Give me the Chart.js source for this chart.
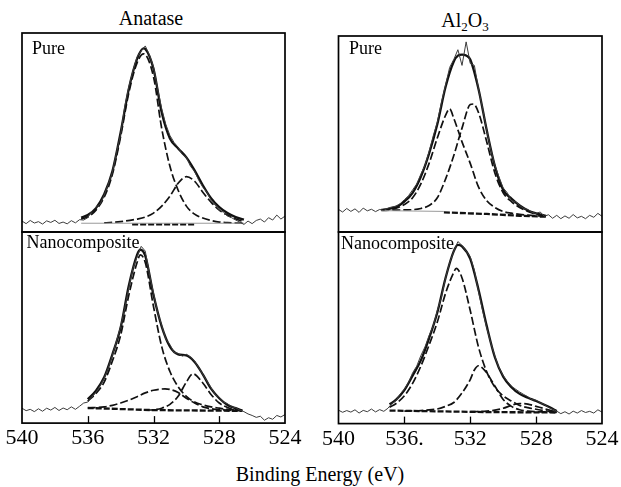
<!DOCTYPE html>
<html>
<head>
<meta charset="utf-8">
<script src="https://cdn.jsdelivr.net/npm/chart.js@4.4.0/dist/chart.umd.min.js"></script>
<style>
  body { margin: 0; background: #fff; width: 621px; height: 487px; position: relative; overflow: hidden; }
  canvas { position: absolute; }
  .txt { position: absolute; font-family: 'Liberation Serif', 'Times New Roman', serif; color: #000; text-align: center; line-height: 20px; white-space: nowrap; }
  sub { font-size: 13px; vertical-align: -4px; line-height: 0; }
</style>
</head>
<body>
<div class="txt" style="left:0;top:8px;width:302px;font-size:20px;">Anatase</div>
<div class="txt" style="left:365px;top:10px;width:200px;font-size:20px;">Al<sub>2</sub>O<sub>3</sub></div>
<div class="txt" style="left:170px;top:464px;width:300px;font-size:20px;">Binding Energy (eV)</div>
<canvas id="lt" width="310" height="210" style="left:0;top:28px"></canvas>
<canvas id="rt" width="305" height="210" style="left:316px;top:28px"></canvas>
<canvas id="lb" width="310" height="235" style="left:0;top:226px"></canvas>
<canvas id="rb" width="305" height="235" style="left:316px;top:226px"></canvas>
<script>
// binding energy grid of the measured spectra (eV)
const rawEnergy = [
  540, 539.75, 539.5, 539.25, 539, 538.75, 538.5, 538.25, 538, 537.75, 537.5, 537.25, 537,
  536.75, 536.5, 536.25, 536, 535.75, 535.5, 535.25, 535, 534.75, 534.5, 534.25, 534, 533.75,
  533.5, 533.25, 533, 532.75, 532.5, 532.25, 532, 531.75, 531.5, 531.25, 531, 530.75, 530.5,
  530.25, 530, 529.75, 529.5, 529.25, 529, 528.75, 528.5, 528.25, 528, 527.75, 527.5, 527.25,
  527, 526.75, 526.5, 526.25, 526, 525.75, 525.5, 525.25, 525, 524.75, 524.5, 524.25, 524
];
const tickValues = [540, 536, 532, 528, 524];
const leftTickLabels = ['540', '536', '532', '528', '524'];
const rightTickLabels = ['540', '536.', '532', '528', '524'];
const innerTicks = [536, 532, 528];

// ---- Anatase, pure ----
const anPureRaw = [
  5.5, 4.2, 5.8, 4.5, 5.2, 4.0, 5.6, 4.8, 5.9, 4.3, 5.0, 4.1, 5.7,
  4.6, 6.2, 6.0, 7.2, 10.5, 12.5, 14.0, 18.5, 24, 30, 40, 49, 63,
  73, 81, 88, 91, 93.5, 89, 83, 72, 62, 54, 48.5, 45, 42.5,
  39, 37.5, 33, 30.5, 26, 22.5, 20, 16, 13.5, 11, 10, 8, 7.2,
  6, 5, 3.8, 5.5, 4.2, 5.8, 6.5, 5.0, 7.2, 6.0, 8.5, 6.5, 8.0
];
const anPureFit = [[536.4,7.2],[536,8.5],[535.5,12],[535,19],[534.5,30.5],[534,50],[533.5,72],[533,87],[532.6,92.3],[532.5,92],[532,82],[531.5,60],[531,47],[530.5,42],[530,37.5],[529.5,31],[529,23.5],[528.5,17],[528,12.5],[527.5,9.5],[527,7.5],[526.5,6.2]];
const anPureMain = [[536.4,6.5],[536,7.5],[535.5,11],[535,17.5],[534.5,29],[534,48],[533.5,70],[533,85],[532.6,89.5],[532,78],[531.5,52],[531,33],[530.5,21],[530,13],[529.5,9],[529,7],[528.5,5.8],[528,5],[527.5,4.7],[527,4.5],[526.5,4.4]];
const anPureLow = [[535,4.6],[534,5.2],[533,6.5],[532.5,7.5],[532,9.5],[531.5,13],[531,18],[530.5,24.5],[530,27.8],[529.5,25.5],[529,20],[528.5,15],[528,11],[527.5,8.5],[527,6.5],[526.5,5.2]];
const anPureBase = [[536.4,4.4],[526.5,4.4]];
const anPureBg = [[533.3,3.8],[529.5,3.8]];

// ---- Al2O3, pure ----
const alPureRaw = [
  11.5, 10.2, 12.0, 10.5, 11.8, 10.0, 12.2, 10.8, 11.6, 10.4, 11.5, 11.0, 12.2,
  12.8, 13.2, 14.5, 16.5, 18.5, 21.5, 24.5, 29.5, 34, 41, 49, 56, 66,
  75, 84, 88, 93, 85, 97, 86, 85, 73, 63, 52, 42, 34,
  28, 22.5, 20, 16, 15.5, 13.5, 12.0, 11.5, 10.0, 9.5, 10.2, 8.0, 8.8,
  7.0, 8.5, 6.8, 8.2, 7.0, 8.9, 7.2, 8.0, 6.8, 8.5, 7.5, 9.5, 8.0
];
const alPureFit = [[537.4,11.3],[537,11.7],[536.5,12.8],[536,15.5],[535.5,20],[535,28.2],[534.5,40],[534,55],[533.5,74],[533,87],[532.75,90],[532.5,90.5],[532.25,90],[532,88],[531.5,73],[531,52],[530.5,33.5],[530,21.5],[529.5,17],[529,13.5],[528.5,11],[528,9.5],[527.4,8.2]];
const alPureHigh = [[537.4,11.2],[537,11.5],[536.5,12.2],[536,14],[535.5,17.5],[535,24.5],[534.5,35],[534,48],[533.5,59.5],[533.25,62.8],[533,58],[532.5,46],[532,35],[531.5,23],[531,16],[530.5,12.5],[530,10.5],[529.5,9.6],[529,9],[528.5,8.6],[528,8.3],[527.4,8]];
const alPureLow = [[537.4,11],[536.5,11.2],[535.5,11.4],[535,12],[534.5,13.5],[534,17.5],[533.5,27],[533,39],[532.5,53],[532,65],[531.8,65.3],[531.5,61],[531,46],[530.5,30],[530,20],[529.5,15.5],[529,12.5],[528.5,10.5],[528,9.2],[527.4,8.2]];
const alPureBase = [[537.4,10.9],[533.6,10.5]];
const alPureBg = [[533.6,10.0],[531,9.2],[529,8.3],[527.4,7.8]];

// ---- Anatase, nanocomposite ----
const anNanoRaw = [
  7.8, 6.5, 7.2, 6.0, 7.5, 6.2, 7.8, 6.8, 8.2, 6.6, 7.9, 7.0, 8.5,
  7.2, 8.8, 10.5, 11.0, 13.5, 16.0, 19.5, 23.5, 29, 35.5, 43, 50.5, 60,
  71, 81, 87, 92.5, 90, 78, 68, 58, 51, 44, 41, 37, 36.5,
  35, 36, 34.5, 32.5, 29, 25.5, 22, 18.5, 15, 13.5, 11, 10.2, 8.5,
  8.0, 6.8, 6.0, 4.8, 4.0, 3.0, 3.6, 1.5, 2.8, 2.0, 4.0, 3.2, 4.5
];
const anNanoFit = [[536,12.5],[535.5,17],[535,24],[534.5,36],[534,50],[533.5,72],[533,88],[532.8,90.7],[532.5,87.5],[532,67],[531.5,50.5],[531,40],[530.5,36],[530,35.4],[529.5,32],[529,25.5],[528.5,18],[528,13],[527.5,9.5],[527,7.8],[526.6,6.5]];
const anNanoMain = [[536,11.5],[535.5,15.5],[535,21.5],[534.5,32.5],[534,46],[533.5,67],[533,84],[532.8,88],[532.5,84],[532,61],[531.5,40],[531,27],[530.5,19],[530,14],[529.5,11],[529,9.5],[528.5,8.5],[528,7.8],[527.5,7.2],[527,6.8],[526.6,6.5]];
const anNanoMid = [[536,7.9],[535,8.5],[534.5,9.3],[534,10.5],[533.5,12],[533,13.8],[532.5,15.8],[532,17.2],[531.3,17.9],[531,17.6],[530.5,16],[530,13],[529.5,10.5],[529,8.5],[528.5,7.5],[528,7],[527,6.6],[526.6,6.4]];
const anNanoLow = [[532.5,6.8],[532,7],[531.5,7.8],[531,9.8],[530.5,14],[530,21.5],[529.6,25.8],[529,21],[528.5,15],[528,10.5],[527.5,8.2],[527,7],[526.6,6.5]];
const anNanoBg = [[536,7.9],[532,6.8],[526.6,6.4]];

// ---- Al2O3, nanocomposite ----
const alNanoRaw = [
  7.0, 5.9, 6.8, 6.0, 7.2, 5.5, 6.9, 6.2, 7.6, 6.1, 7.3, 6.4, 8.0,
  10.5, 12.0, 15.5, 18.0, 21.5, 26.5, 30, 35.5, 40, 46, 51, 59, 66,
  76, 84, 90, 95, 93, 90, 87, 80, 69, 59, 50, 42, 35,
  29, 25, 22, 19.5, 18, 16.5, 15.2, 14, 12.5, 12.2, 10.8, 10, 8.5,
  7.5, 6.5, 5.2, 6.2, 5.0, 6.5, 5.5, 6.8, 5.8, 6.4, 5.5, 7.2, 6.0
];
const alNanoFit = [[536.9,10],[536.5,12.5],[536,17.5],[535.5,25],[535,33],[534.5,44.5],[534,58],[533.5,76],[533,90],[532.75,93.3],[532.5,92.5],[532,86],[531.5,70],[531,51],[530.5,34.5],[530,24.5],[529.5,19],[529,15.5],[528.5,13.5],[528,11.8],[527.5,9.8],[527,7.8],[526.75,6.5]];
const alNanoMain = [[536.9,8.5],[536.5,10.5],[536,14.5],[535.5,21],[535,30],[534.5,41],[534,53],[533.5,68],[533,79],[532.85,81],[532.5,76],[532,59],[531.5,40],[531,27],[530.5,19],[530,14.5],[529.5,11.8],[529,9.5],[528.5,8.3],[528,7.5],[527.5,6.8],[527,6.3],[526.75,6]];
const alNanoMid = [[536,6.5],[535,6.8],[534.5,7.2],[534,7.6],[533.5,9],[533,11],[532.5,16],[532,23],[531.75,28],[531.5,30.2],[531.25,29],[531,26.5],[530.5,19.5],[530,12.6],[529.5,9],[529,7.2],[528.5,6.5],[528,6.2],[527,6],[526.75,5.9]];
const alNanoLow = [[532,6.2],[531,6.5],[530.5,7],[530,8],[529.5,9.5],[529,10.5],[528.5,10.2],[528,9],[527.5,7.8],[527,6.6],[526.75,6]];
const alNanoBg = [[536.9,6.8],[531,6],[526.75,5.8]];

const serif = "'Liberation Serif', 'Times New Roman', serif";

function pts(pairs) { return pairs.map(p => ({ x: p[0], y: p[1] })); }
function rawPts(vals) { return rawEnergy.map((e, i) => ({ x: e, y: vals[i] })); }

function rawSet(vals) {
  return { data: rawPts(vals), borderColor: '#3c3c3c', borderWidth: 1, pointRadius: 0, tension: 0 };
}
function fitSet(pairs) {
  return { data: pts(pairs), borderColor: '#111', borderWidth: 2.3, pointRadius: 0, cubicInterpolationMode: 'monotone' };
}
function compSet(pairs) {
  return { data: pts(pairs), borderColor: '#111', borderWidth: 1.7, borderDash: [8, 3], pointRadius: 0, cubicInterpolationMode: 'monotone' };
}
function baseSet(pairs) {
  return { data: pts(pairs), borderColor: '#9a9a9a', borderWidth: 1, pointRadius: 0, tension: 0 };
}
function bgSet(pairs) {
  return { data: pts(pairs), borderColor: '#111', borderWidth: 2.3, borderDash: [6, 2], pointRadius: 0, tension: 0 };
}

// frame, inward tick marks and the panel name
const panelDeco = {
  id: 'panelDeco',
  afterDraw(chart) {
    const o = chart.options.plugins.panelDeco;
    const { ctx, chartArea: a } = chart;
    const xs = chart.scales.x;
    ctx.save();
    ctx.strokeStyle = '#000';
    ctx.lineWidth = 1.7;
    ctx.strokeRect(a.left, a.top, a.right - a.left, a.bottom - a.top);
    if (o.ticks) {
      ctx.lineWidth = 1.3;
      innerTicks.forEach(v => {
        const px = Math.round(xs.getPixelForValue(v)) + 0.5;
        ctx.beginPath();
        ctx.moveTo(px, a.bottom);
        ctx.lineTo(px, a.bottom - 7);
        ctx.stroke();
      });
    }
    ctx.fillStyle = '#000';
    ctx.font = '18px ' + serif;
    ctx.textBaseline = 'alphabetic';
    ctx.fillText(o.label, a.left + o.dx, a.top + o.dy);
    ctx.restore();
  }
};

function makePanel(id, datasets, opts) {
  const showAxis = !!opts.tickLabels;
  return new Chart(document.getElementById(id), {
    type: 'line',
    data: { datasets: datasets },
    options: {
      responsive: false,
      animation: false,
      layout: { padding: opts.padding },
      plugins: {
        legend: { display: false },
        tooltip: { enabled: false },
        panelDeco: { label: opts.label, dx: opts.dx, dy: opts.dy, ticks: showAxis }
      },
      scales: {
        x: {
          type: 'linear', min: 524, max: 540, reverse: true,
          display: showAxis,
          grid: { display: false, drawTicks: false },
          border: { display: false },
          afterBuildTicks: s => { s.ticks = tickValues.map(v => ({ value: v })); },
          ticks: {
            padding: 2,
            color: '#000',
            maxRotation: 0,
            font: { family: serif, size: 22 },
            callback: (v, i) => showAxis ? opts.tickLabels[i] : ''
          }
        },
        y: { min: 0, max: 100, display: false }
      }
    },
    plugins: [panelDeco]
  });
}

makePanel('lt', [rawSet(anPureRaw), baseSet(anPureBase), bgSet(anPureBg), compSet(anPureMain), compSet(anPureLow), fitSet(anPureFit)],
  { padding: { left: 22, right: 25, top: 5, bottom: 6 }, label: 'Pure', dx: 10, dy: 21 });

makePanel('rt', [rawSet(alPureRaw), baseSet(alPureBase), bgSet(alPureBg), compSet(alPureHigh), compSet(alPureLow), fitSet(alPureFit)],
  { padding: { left: 22.5, right: 19, top: 8, bottom: 6 }, label: 'Pure', dx: 10.5, dy: 18 });

makePanel('lb', [rawSet(anNanoRaw), bgSet(anNanoBg), compSet(anNanoMain), compSet(anNanoMid), compSet(anNanoLow), fitSet(anNanoFit)],
  { padding: { left: 22, right: 25, top: 6, bottom: 7.5 }, label: 'Nanocomposite', dx: 4.5, dy: 16, tickLabels: leftTickLabels });

makePanel('rb', [rawSet(alNanoRaw), bgSet(alNanoBg), compSet(alNanoMain), compSet(alNanoMid), compSet(alNanoLow), fitSet(alNanoFit)],
  { padding: { left: 22.5, right: 19, top: 6, bottom: 7 }, label: 'Nanocomposite', dx: 2.5, dy: 16.5, tickLabels: rightTickLabels });
</script>
</body>
</html>
